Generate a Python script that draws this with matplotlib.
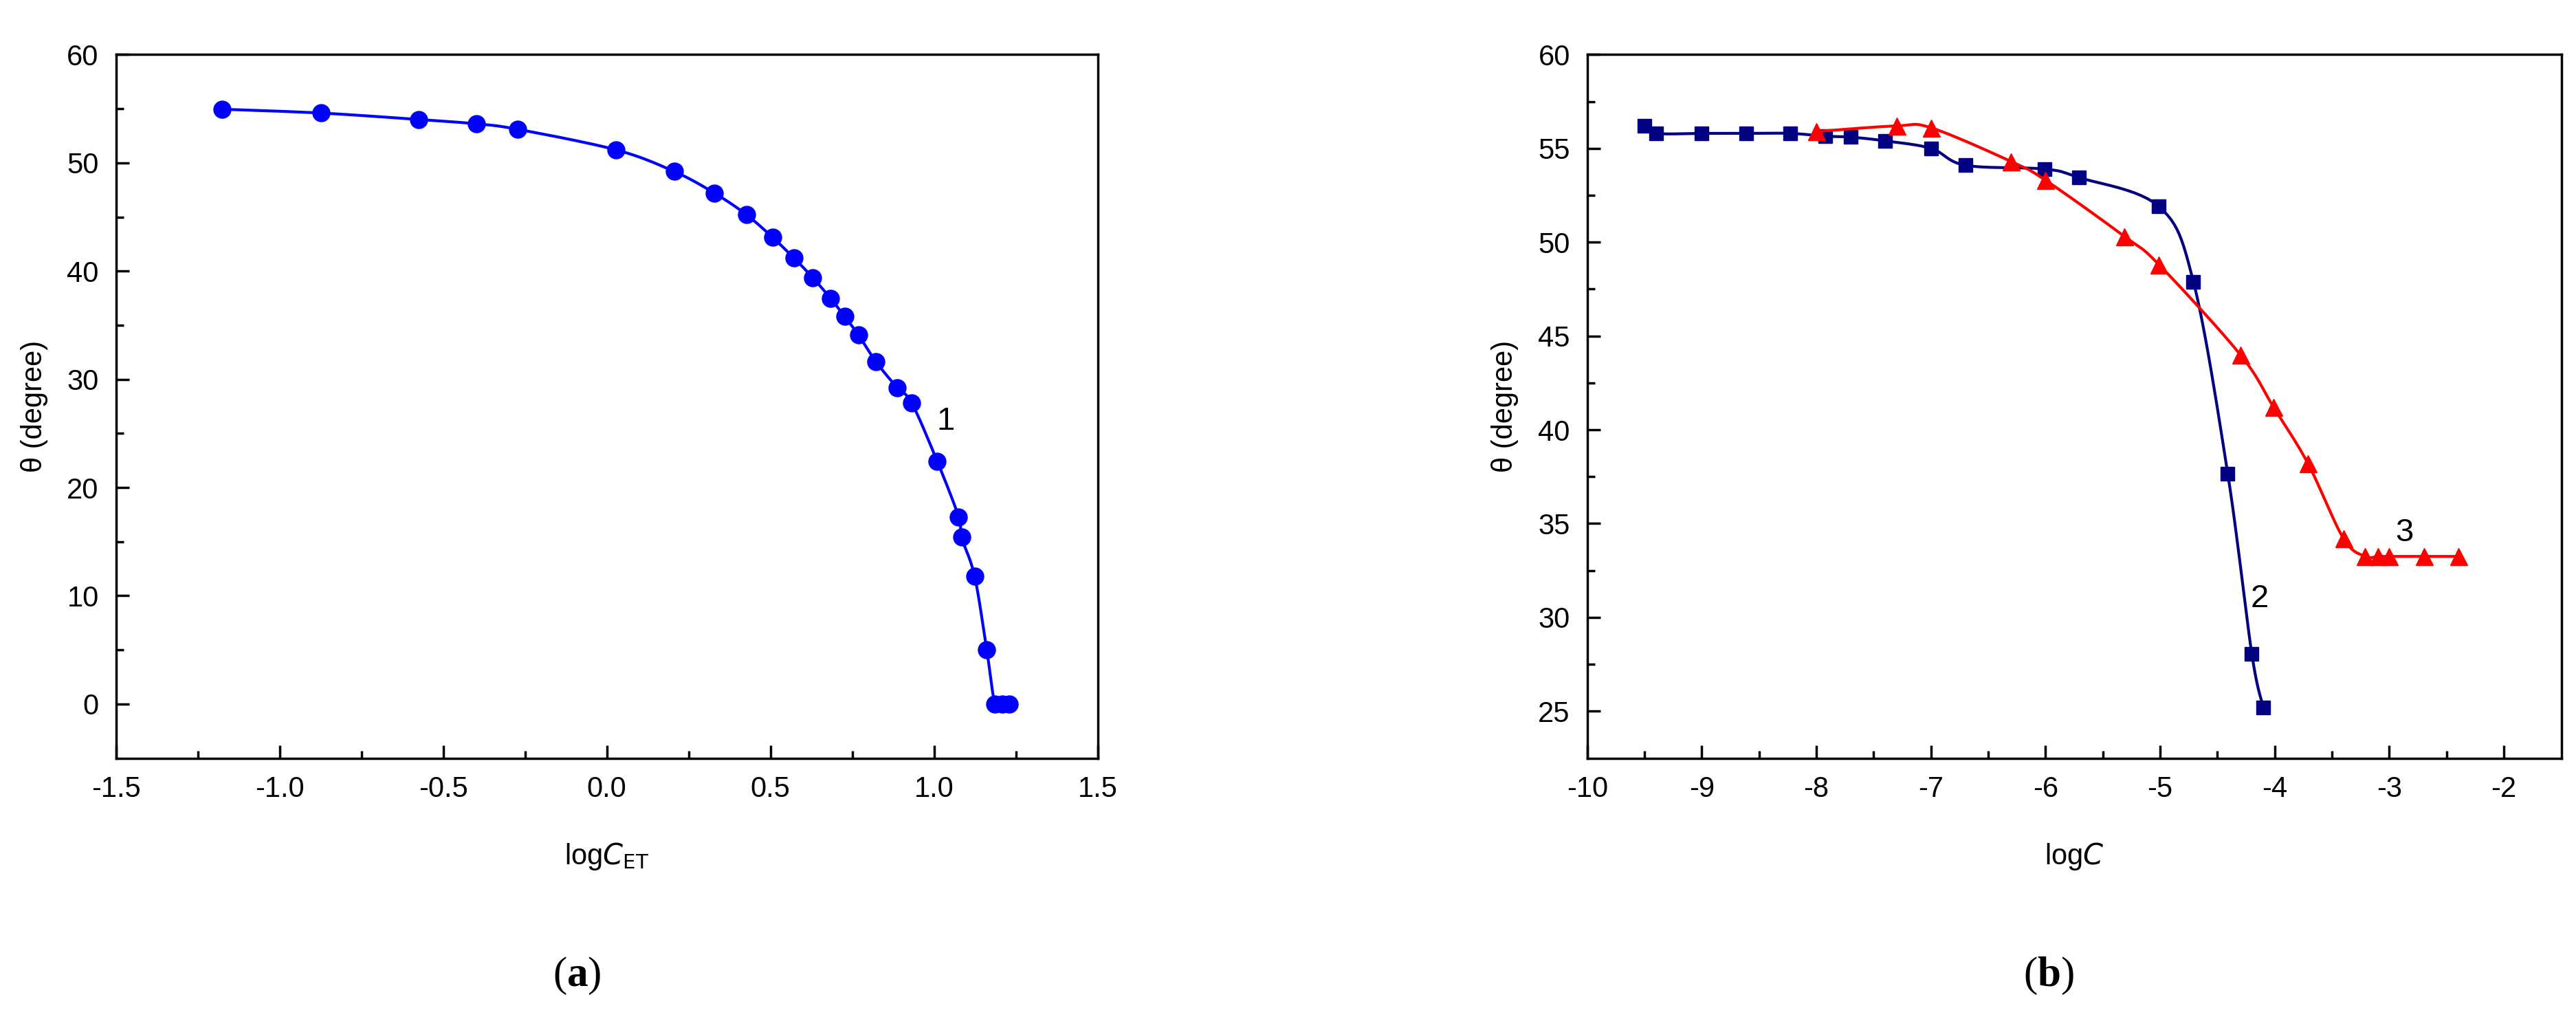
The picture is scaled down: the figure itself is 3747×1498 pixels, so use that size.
import numpy as np
import matplotlib.pyplot as plt

plt.rcParams['font.family'] = ['Liberation Sans', 'DejaVu Sans']
plt.rcParams['axes.unicode_minus'] = False

# panel (a): curve 1
x1 = [-1.175, -0.874, -0.574, -0.398, -0.273, 0.028, 0.206, 0.329, 0.427, 0.507,
      0.572, 0.629, 0.683, 0.727, 0.769, 0.823, 0.888, 0.932, 1.010, 1.075,
      1.084, 1.124, 1.161, 1.186, 1.208, 1.230]
y1 = [54.95, 54.6, 54.0, 53.6, 53.1, 51.2, 49.2, 47.2, 45.2, 43.1,
      41.2, 39.4, 37.5, 35.8, 34.1, 31.6, 29.2, 27.8, 22.4, 17.3,
      15.4, 11.8, 5.0, 0.0, 0.0, 0.0]

# panel (b): curves 2 and 3
x2 = [-9.50, -9.40, -9.0, -8.61, -8.23, -7.92, -7.70, -7.40, -7.0, -6.70,
      -6.01, -5.71, -5.01, -4.71, -4.41, -4.20, -4.10]
y2 = [56.2, 55.8, 55.8, 55.8, 55.8, 55.65, 55.6, 55.4, 55.0, 54.1,
      53.9, 53.45, 51.9, 47.9, 37.65, 28.05, 25.2]
x3 = [-8.0, -7.30, -7.0, -6.30, -6.0, -5.31, -5.01, -4.30, -4.01, -3.71,
      -3.40, -3.21, -3.10, -3.0, -2.70, -2.40]
y3 = [55.9, 56.2, 56.1, 54.3, 53.3, 50.3, 48.8, 44.0, 41.2, 38.2,
      34.2, 33.25, 33.25, 33.25, 33.25, 33.25]


def smooth(x, y, n=12):
    # Catmull-Rom through the points, for the drawn line only
    p = np.column_stack([x, y]).astype(float)
    p = np.vstack([p[0], p, p[-1]])
    out = []
    t = np.linspace(0, 1, n, endpoint=False)[:, None]
    for i in range(1, len(p) - 2):
        p0, pa, pb, p3 = p[i - 1], p[i], p[i + 1], p[i + 2]
        out.append(0.5 * ((2 * pa) + (-p0 + pb) * t + (2 * p0 - 5 * pa + 4 * pb - p3) * t ** 2
                          + (-p0 + 3 * pa - 3 * pb + p3) * t ** 3))
    out.append(p[-2][None, :])
    out = np.vstack(out)
    return out[:, 0], out[:, 1]


fs = 30
fig = plt.figure(figsize=(37.48, 14.98), dpi=100)
axa = fig.add_axes([0.045, 0.264, 0.381, 0.683])
axb = fig.add_axes([0.616, 0.264, 0.378, 0.683])

sx, sy = smooth(x1, y1)
axa.plot(sx, sy, color='#0000ff', lw=3)
axa.plot(x1, y1, 'o', color='#0000ff', ms=18)
axa.text(1.035, 26.1, '1', fontsize=fs + 4, ha='center', va='center')
axa.set_xlim(-1.5, 1.5)
axa.set_ylim(-5, 60)
axa.set_xticks(np.arange(-1.5, 1.51, 0.5))
axa.set_xticks(np.arange(-1.25, 1.5, 0.5), minor=True)
axa.set_yticks(np.arange(0, 61, 10))
axa.set_yticks(np.arange(5, 60, 10), minor=True)
axa.set_xlabel(r'log$\it{C}_{\rm ET}$', fontsize=fs, labelpad=40)
axa.set_ylabel('θ (degree)', fontsize=fs, labelpad=20)

sx, sy = smooth(x2, y2)
axb.plot(sx, sy, color='#000080', lw=3)
axb.plot(x2, y2, 's', color='#000080', ms=15)
sx, sy = smooth(x3, y3)
axb.plot(sx, sy, color='#ff0000', lw=3)
axb.plot(x3, y3, '^', color='#ff0000', ms=18)
axb.text(-4.13, 31.0, '2', fontsize=fs + 4, ha='center', va='center')
axb.text(-2.87, 34.5, '3', fontsize=fs + 4, ha='center', va='center')
axb.set_xlim(-10, -1.5)
axb.set_ylim(22.5, 60)
axb.set_xticks(np.arange(-10, -1.9, 1))
axb.set_xticks(np.arange(-9.5, -1.5, 1), minor=True)
axb.set_yticks(np.arange(25, 61, 5))
axb.set_yticks(np.arange(27.5, 60, 5), minor=True)
axb.set_xlabel(r'log$\it{C}$', fontsize=fs, labelpad=40)
axb.set_ylabel('θ (degree)', fontsize=fs, labelpad=20)

for ax in (axa, axb):
    for s in ax.spines.values():
        s.set_linewidth(2.5)
    ax.tick_params(which='both', direction='in', top=False, right=False,
                   labelsize=fs, width=2.5, pad=18)
    ax.tick_params(which='major', length=14)
    ax.tick_params(which='minor', length=8)

plt.rcParams['mathtext.fontset'] = 'custom'
plt.rcParams['mathtext.bf'] = 'Liberation Serif:bold'
fig.text(0.224, 0.043, r'($\bf{a}$)', fontsize=44, family='Liberation Serif', ha='center')
fig.text(0.795, 0.043, r'($\bf{b}$)', fontsize=44, family='Liberation Serif', ha='center')

fig.savefig('out.png', dpi=100)
